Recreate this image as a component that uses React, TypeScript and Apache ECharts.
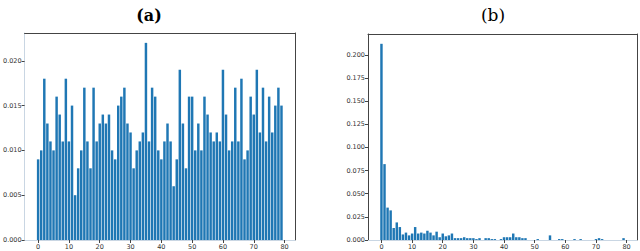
import React, { useEffect, useRef } from "react";
import * as echarts from "echarts";

const indices: number[] = Array.from({ length: 80 }, (_, i) => i);

const valuesA: number[] = [
  0.009, 0.010, 0.018, 0.013, 0.011, 0.010, 0.016, 0.014, 0.011, 0.018,
  0.011, 0.015, 0.005, 0.008, 0.010, 0.017, 0.011, 0.008, 0.017, 0.011,
  0.013, 0.014, 0.013, 0.014, 0.010, 0.009, 0.015, 0.016, 0.017, 0.013,
  0.012, 0.008, 0.010, 0.011, 0.012, 0.022, 0.011, 0.017, 0.016, 0.010,
  0.009, 0.011, 0.013, 0.011, 0.006, 0.009, 0.019, 0.013, 0.008, 0.016,
  0.016, 0.010, 0.013, 0.010, 0.016, 0.014, 0.012, 0.011, 0.012, 0.011,
  0.019, 0.014, 0.010, 0.011, 0.017, 0.011, 0.018, 0.009, 0.010, 0.016,
  0.014, 0.019, 0.012, 0.017, 0.011, 0.016, 0.012, 0.015, 0.017, 0.015,
];

const valuesB: number[] = [
  0.212, 0.082, 0.035, 0.032, 0.013, 0.019, 0.014, 0.006, 0.008, 0.005,
  0.007, 0.014, 0.007, 0.008, 0.007, 0.010, 0.008, 0.005, 0.009, 0.003,
  0.007, 0.004, 0.005, 0.007, 0.002, 0.002, 0.002, 0.003, 0.002, 0.002,
  0.002, 0.001, 0.002, 0.000, 0.002, 0.002, 0.001, 0.001, 0.000, 0.001,
  0.003, 0.003, 0.003, 0.007, 0.003, 0.003, 0.002, 0.002, 0.000, 0.000,
  0.000, 0.001, 0.000, 0.000, 0.000, 0.005, 0.000, 0.000, 0.001, 0.001,
  0.000, 0.000, 0.000, 0.001, 0.000, 0.001, 0.000, 0.000, 0.000, 0.000,
  0.001, 0.002, 0.001, 0.000, 0.000, 0.000, 0.000, 0.000, 0.000, 0.002,
];

const xTicks: number[] = [0, 10, 20, 30, 40, 50, 60, 70, 80];
const yTicksA: number[] = [0, 0.005, 0.01, 0.015, 0.02];
const yTicksB: number[] = [0, 0.025, 0.05, 0.075, 0.1, 0.125, 0.15, 0.175, 0.2];
const titles: string[] = ["(a)", "(b)"];

const BAR = "#1f77b4";
const DARK = "#444444";
const LIGHT = "#c9d6e3";

export default function App() {
  const ref = useRef<HTMLDivElement>(null);
  useEffect(() => {
    if (!ref.current) return;
    const chart = echarts.init(ref.current, null, { renderer: "svg" });
    const xMin = -4.39;
    const xMax = 83.39;
    const maxA = Math.max(...valuesA) * 1.05;
    const maxB = Math.max(...valuesB) * 1.05;
    const labelStyle = { fontFamily: "DejaVu Sans", fontSize: 6.5, color: "#333" };
    const mkX = (grid: number, bottomLine: string) => [
      {
        type: "value", gridIndex: grid, min: xMin, max: xMax, position: "bottom",
        splitLine: { show: false },
        axisLine: { show: true, onZero: false, lineStyle: { color: bottomLine, width: 1 } },
        axisTick: { show: true, length: 3, customValues: xTicks, lineStyle: { color: DARK } },
        axisLabel: { show: true, customValues: xTicks, margin: 3, ...labelStyle, formatter: (v: number) => String(Math.round(v)) },
      },
      {
        type: "value", gridIndex: grid, min: xMin, max: xMax, position: "top",
        splitLine: { show: false },
        axisLine: { show: true, onZero: false, lineStyle: { color: DARK, width: 1 } },
        axisTick: { show: false }, axisLabel: { show: false },
      },
    ];
    const mkY = (grid: number, max: number, ticks: number[], leftColor: string) => [
      {
        type: "value", gridIndex: grid, min: 0, max, position: "left",
        splitLine: { show: false },
        axisLine: { show: true, onZero: false, lineStyle: { color: leftColor, width: 1 } },
        axisTick: { show: true, length: 3, customValues: ticks, lineStyle: { color: DARK } },
        axisLabel: { show: true, customValues: ticks, margin: 3, ...labelStyle, formatter: (v: number) => v.toFixed(3) },
      },
      {
        type: "value", gridIndex: grid, min: 0, max, position: "right",
        splitLine: { show: false },
        axisLine: { show: true, onZero: false, lineStyle: { color: DARK, width: 1 } },
        axisTick: { show: false }, axisLabel: { show: false },
      },
    ];
    chart.setOption({
      animation: false,
      backgroundColor: "#ffffff",
      title: [
        { text: titles[0], left: 144, top: 10, textAlign: "center", textVerticalAlign: "middle",
          textStyle: { fontFamily: "DejaVu Serif", fontSize: 16, fontWeight: "bold", color: "#000" } },
        { text: titles[1], left: 488, top: 10, textAlign: "center", textVerticalAlign: "middle",
          textStyle: { fontFamily: "DejaVu Serif", fontSize: 17, fontWeight: "normal", color: "#000" } },
      ],
      grid: [
        { left: 24, top: 33, width: 271, height: 207 },
        { left: 368, top: 34, width: 269, height: 206 },
      ],
      xAxis: [...mkX(0, LIGHT), ...mkX(1, LIGHT)],
      yAxis: [...mkY(0, maxA, yTicksA, LIGHT), ...mkY(1, maxB, yTicksB, DARK)],
      series: [
        {
          type: "bar", xAxisIndex: 0, yAxisIndex: 0, barWidth: 2.47,
          itemStyle: { color: BAR }, data: indices.map((i) => [i, valuesA[i]]),
        },
        {
          type: "bar", xAxisIndex: 2, yAxisIndex: 2, barWidth: 2.45,
          itemStyle: { color: BAR }, data: indices.map((i) => [i, valuesB[i]]),
        },
      ],
    });
    return () => chart.dispose();
  }, []);
  return (
    <div
      ref={ref}
      style={{ position: "fixed", left: 0, top: 0, width: 640, height: 251, background: "#fff" }}
    />
  );
}
